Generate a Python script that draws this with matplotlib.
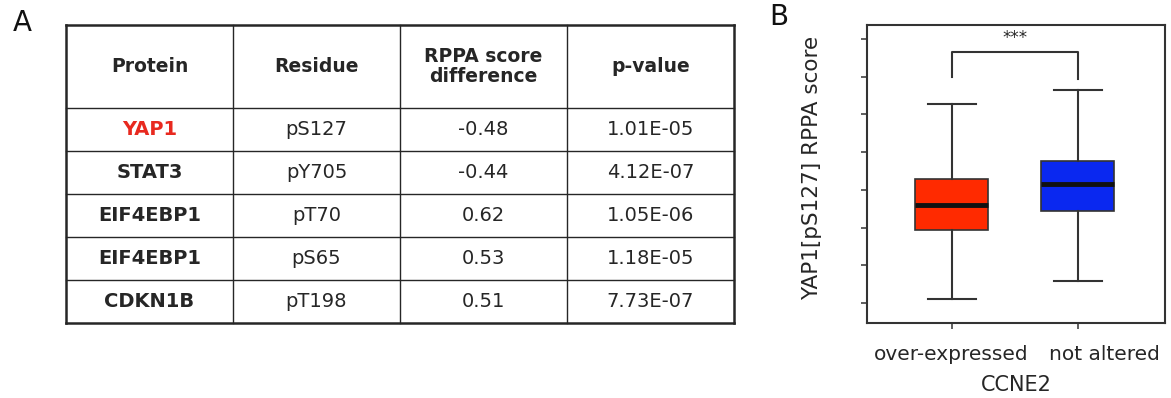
import matplotlib

matplotlib.use("Agg")
import matplotlib.pyplot as plt  # noqa: E402
from matplotlib.transforms import ScaledTranslation  # noqa: E402

# table content (panel A)
headers = ["Protein", "Residue", "RPPA score\ndifference", "p-value"]
proteins = ["YAP1", "STAT3", "EIF4EBP1", "EIF4EBP1", "CDKN1B"]
residues = ["pS127", "pY705", "pT70", "pS65", "pT198"]
score_diff = ["-0.48", "-0.44", "0.62", "0.53", "0.51"]
p_values = ["1.01E-05", "4.12E-07", "1.05E-06", "1.18E-05", "7.73E-07"]
highlight = "YAP1"

# box summary (panel B), RPPA score units
groups = ["over-expressed", "not altered"]
q1 = [-0.53, -0.28]
med = [-0.20, 0.08]
q3 = [0.14, 0.38]
whislo = [-1.45, -1.21]
whishi = [1.14, 1.32]
box_colors = ["#ff2a00", "#0a28f0"]
yticks = [-1.5, -1.0, -0.5, 0.0, 0.5, 1.0, 1.5, 2.0]

INK = "#262626"
HEADER_H = 1.93

fig = plt.figure(figsize=(11.71, 3.98), dpi=100)

# ---- panel A: table ----
ax_t = fig.add_axes([66 / 1171, 75 / 398, 668 / 1171, 298 / 398])
ncol = len(headers)
nrow = len(proteins)
top = nrow + HEADER_H
ax_t.set_xlim(0, ncol)
ax_t.set_ylim(0, top)
ax_t.axis("off")

for c in range(ncol + 1):
    lw = 1.8 if c in (0, ncol) else 1.0
    ax_t.plot([c, c], [0, top], color=INK, lw=lw, solid_capstyle="projecting", clip_on=False)
for r in range(nrow + 1):
    lw = 1.8 if r == 0 else 1.0
    ax_t.plot([0, ncol], [r, r], color=INK, lw=lw, solid_capstyle="projecting", clip_on=False)
ax_t.plot([0, ncol], [top, top], color=INK, lw=1.8, solid_capstyle="projecting", clip_on=False)

for c, h in enumerate(headers):
    ax_t.text(c + 0.5, nrow + HEADER_H / 2, h, ha="center", va="center",
              fontsize=13.5, fontweight="bold", color=INK, linespacing=1.1)

for i in range(nrow):
    y = nrow - i - 0.5
    row = [proteins[i], residues[i], score_diff[i], p_values[i]]
    for c, val in enumerate(row):
        bold = c == 0
        color = "#e8291f" if (c == 0 and val == highlight) else INK
        ax_t.text(c + 0.5, y, val, ha="center", va="center", fontsize=14,
                  fontweight="bold" if bold else "normal", color=color)

fig.text(22 / 1171, 1 - 23 / 398, "A", ha="center", va="center", fontsize=20, color="#111111")

# ---- panel B: box plot ----
ax_b = fig.add_axes([867 / 1171, 75 / 398, 298 / 1171, 298 / 398])
stats = [
    dict(q1=q1[i], med=med[i], q3=q3[i], whislo=whislo[i], whishi=whishi[i], fliers=[])
    for i in range(len(groups))
]
bp = ax_b.bxp(
    stats, positions=[1, 2], widths=0.58, capwidths=0.38, patch_artist=True,
    showfliers=False,
    boxprops=dict(edgecolor="#333333", linewidth=1.2),
    medianprops=dict(color="#111111", linewidth=3.5),
    whiskerprops=dict(color="#333333", linewidth=1.5),
    capprops=dict(color="#333333", linewidth=1.5),
)
for patch, col in zip(bp["boxes"], box_colors):
    patch.set_facecolor(col)

ax_b.set_xlim(0.33, 2.69)
ax_b.set_ylim(-1.765, 2.186)
ax_b.set_yticks(yticks)
ax_b.set_yticklabels([])
ax_b.set_xticks([1, 2])
ax_b.set_xticklabels(groups, fontsize=14.5, color=INK)
ax_b.tick_params(axis="both", direction="out", length=4, width=1.2, color="#444444", pad=12)
for s in ax_b.spines.values():
    s.set_linewidth(1.5)
    s.set_color("#333333")
# second group label sits a little right of its tick
lbl = ax_b.get_xticklabels()[1]
lbl.set_transform(lbl.get_transform() + ScaledTranslation(27 / 100, 0, fig.dpi_scale_trans))

ax_b.set_xlabel("CCNE2", fontsize=15, color=INK, labelpad=8)
ax_b.set_ylabel("YAP1[pS127] RPPA score", fontsize=15.5, color=INK)
ax_b.yaxis.set_label_coords(-0.151, 0.52)

# significance bracket
br_y = 1.83
ax_b.plot([1, 1, 2, 2], [1.50, br_y, br_y, 1.47], color="#333333", lw=1.5)
ax_b.text(1.5, br_y + 0.06, "***", ha="center", va="bottom", fontsize=12, color=INK)

fig.text(779 / 1171, 1 - 17 / 398, "B", ha="center", va="center", fontsize=20, color="#111111")

fig.savefig("out.png", dpi=100)
plt.close(fig)
